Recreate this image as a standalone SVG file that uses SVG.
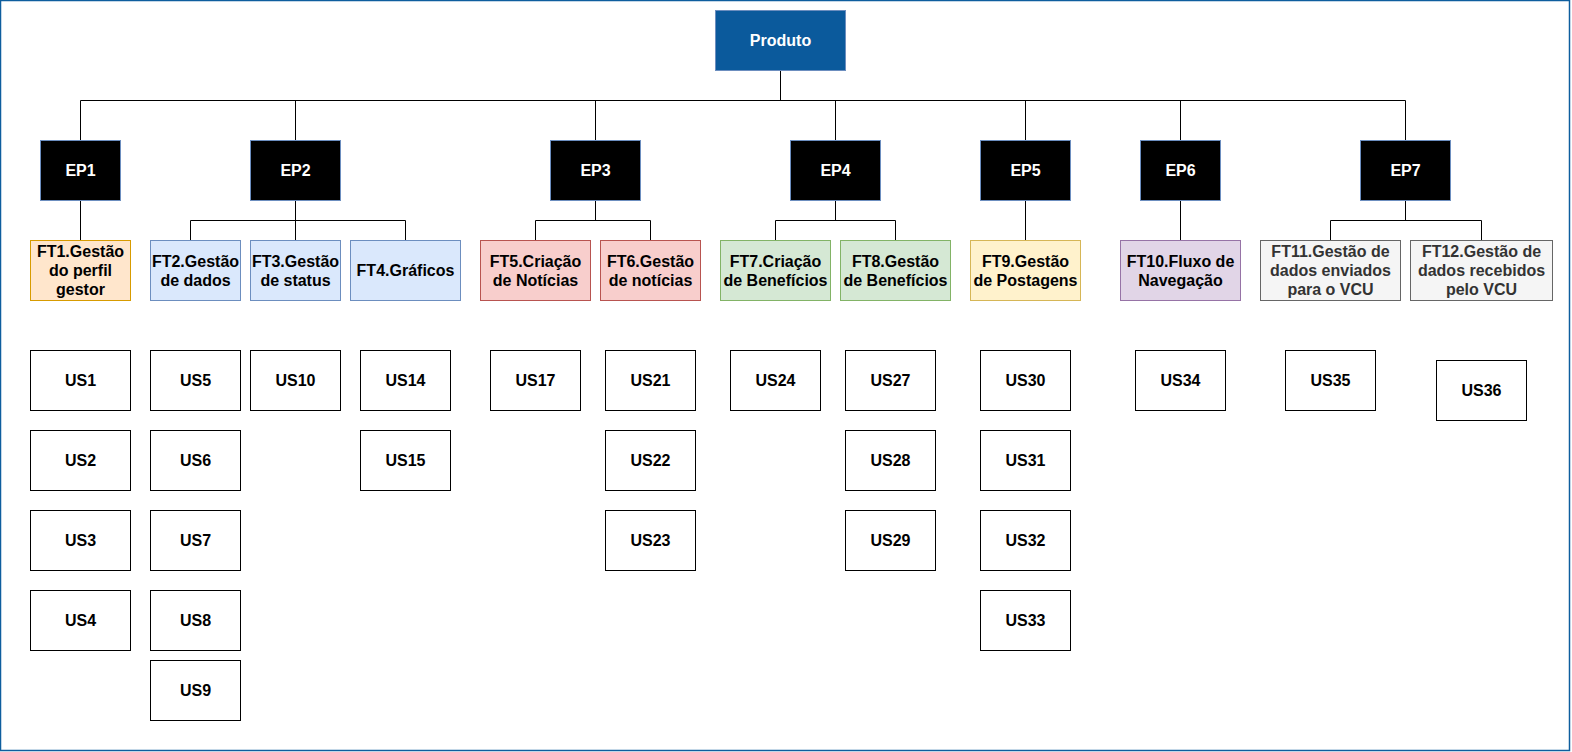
<svg xmlns="http://www.w3.org/2000/svg" width="1572" height="752" viewBox="0 0 1572 752">
<style>
text{font-family:"Liberation Sans",Arial,sans-serif;font-weight:bold;font-size:16px;text-anchor:middle}
.w{fill:#ffffff}
.k{fill:#000000}
.g{fill:#333333}
.us{fill:#ffffff;stroke:#000000;stroke-width:1}
.ep{fill:#000000;stroke:#6c8ebf;stroke-width:1}
.c{fill:none;stroke:#000000;stroke-width:1}
.or{fill:#ffe6cc;stroke:#d79b00}
.bl{fill:#dae8fc;stroke:#6c8ebf}
.rd{fill:#f8cecc;stroke:#b85450}
.gr{fill:#d5e8d4;stroke:#82b366}
.ye{fill:#fff2cc;stroke:#d6b656}
.pu{fill:#e1d5e7;stroke:#9673a6}
.gy{fill:#f5f5f5;stroke:#666666}
</style>
<rect x="0.5" y="0.5" width="1569" height="750" fill="#ffffff" stroke="#0e5e9e" stroke-width="1.5"/>
<g transform="translate(0.5,0.5)">
<g id="connectors">
<path class="c" d="M780 70V100" stroke-width="2"/>
<path class="c" d="M80 100H1405M80 100V140M295 100V140M595 100V140M835 100V140M1025 100V140M1180 100V140M1405 100V140"/>
<path class="c" d="M80 200V240"/>
<path class="c" d="M295 200V220M190 220H405M190 220V240M295 220V240M405 220V240"/>
<path class="c" d="M595 200V220M535 220H650M535 220V240M650 220V240"/>
<path class="c" d="M835 200V220M775 220H895M775 220V240M895 220V240"/>
<path class="c" d="M1025 200V240"/>
<path class="c" d="M1180 200V240"/>
<path class="c" d="M1405 200V220M1330 220H1481M1330 220V240M1481 220V240"/>
</g>
<g id="produto"><rect x="715" y="10" width="130" height="60" fill="#0b5a9c" stroke="#6c8ebf"/><text class="w" x="780" y="45.7">Produto</text></g>
<g id="ep1"><rect class="ep" x="40" y="140" width="80" height="60"/><text class="w" x="80" y="175.7">EP1</text></g>
<g id="ep2"><rect class="ep" x="250" y="140" width="90" height="60"/><text class="w" x="295" y="175.7">EP2</text></g>
<g id="ep3"><rect class="ep" x="550" y="140" width="90" height="60"/><text class="w" x="595" y="175.7">EP3</text></g>
<g id="ep4"><rect class="ep" x="790" y="140" width="90" height="60"/><text class="w" x="835" y="175.7">EP4</text></g>
<g id="ep5"><rect class="ep" x="980" y="140" width="90" height="60"/><text class="w" x="1025" y="175.7">EP5</text></g>
<g id="ep6"><rect class="ep" x="1140" y="140" width="80" height="60"/><text class="w" x="1180" y="175.7">EP6</text></g>
<g id="ep7"><rect class="ep" x="1360" y="140" width="90" height="60"/><text class="w" x="1405" y="175.7">EP7</text></g>

<g id="ft1"><rect class="or" x="30" y="240" width="100" height="60"/><text class="k" x="80" y="256.7">FT1.Gestão</text><text class="k" x="80" y="275.7">do perfil</text><text class="k" x="80" y="294.7">gestor</text></g>
<g id="ft2"><rect class="bl" x="150" y="240" width="90" height="60"/><text class="k" x="195" y="266.2">FT2.Gestão</text><text class="k" x="195" y="285.2">de dados</text></g>
<g id="ft3"><rect class="bl" x="250" y="240" width="90" height="60"/><text class="k" x="295" y="266.2">FT3.Gestão</text><text class="k" x="295" y="285.2">de status</text></g>
<g id="ft4"><rect class="bl" x="350" y="240" width="110" height="60"/><text class="k" x="405" y="275.7">FT4.Gráficos</text></g>
<g id="ft5"><rect class="rd" x="480" y="240" width="110" height="60"/><text class="k" x="535" y="266.2">FT5.Criação</text><text class="k" x="535" y="285.2">de Notícias</text></g>
<g id="ft6"><rect class="rd" x="600" y="240" width="100" height="60"/><text class="k" x="650" y="266.2">FT6.Gestão</text><text class="k" x="650" y="285.2">de notícias</text></g>
<g id="ft7"><rect class="gr" x="720" y="240" width="110" height="60"/><text class="k" x="775" y="266.2">FT7.Criação</text><text class="k" x="775" y="285.2">de Benefícios</text></g>
<g id="ft8"><rect class="gr" x="840" y="240" width="110" height="60"/><text class="k" x="895" y="266.2">FT8.Gestão</text><text class="k" x="895" y="285.2">de Benefícios</text></g>
<g id="ft9"><rect class="ye" x="970" y="240" width="110" height="60"/><text class="k" x="1025" y="266.2">FT9.Gestão</text><text class="k" x="1025" y="285.2">de Postagens</text></g>
<g id="ft10"><rect class="pu" x="1120" y="240" width="120" height="60"/><text class="k" x="1180" y="266.2">FT10.Fluxo de</text><text class="k" x="1180" y="285.2">Navegação</text></g>
<g id="ft11"><rect class="gy" x="1260" y="240" width="140" height="60"/><text class="g" x="1330" y="256.7">FT11.Gestão de</text><text class="g" x="1330" y="275.7">dados enviados</text><text class="g" x="1330" y="294.7">para o VCU</text></g>
<g id="ft12"><rect class="gy" x="1410" y="240" width="142" height="60"/><text class="g" x="1481" y="256.7">FT12.Gestão de</text><text class="g" x="1481" y="275.7">dados recebidos</text><text class="g" x="1481" y="294.7">pelo VCU</text></g>

<g id="us1"><rect class="us" x="30" y="350" width="100" height="60"/><text class="k" x="80" y="385.7">US1</text></g>
<g id="us2"><rect class="us" x="30" y="430" width="100" height="60"/><text class="k" x="80" y="465.7">US2</text></g>
<g id="us3"><rect class="us" x="30" y="510" width="100" height="60"/><text class="k" x="80" y="545.7">US3</text></g>
<g id="us4"><rect class="us" x="30" y="590" width="100" height="60"/><text class="k" x="80" y="625.7">US4</text></g>
<g id="us5"><rect class="us" x="150" y="350" width="90" height="60"/><text class="k" x="195" y="385.7">US5</text></g>
<g id="us6"><rect class="us" x="150" y="430" width="90" height="60"/><text class="k" x="195" y="465.7">US6</text></g>
<g id="us7"><rect class="us" x="150" y="510" width="90" height="60"/><text class="k" x="195" y="545.7">US7</text></g>
<g id="us8"><rect class="us" x="150" y="590" width="90" height="60"/><text class="k" x="195" y="625.7">US8</text></g>
<g id="us9"><rect class="us" x="150" y="660" width="90" height="60"/><text class="k" x="195" y="695.7">US9</text></g>
<g id="us10"><rect class="us" x="250" y="350" width="90" height="60"/><text class="k" x="295" y="385.7">US10</text></g>
<g id="us14"><rect class="us" x="360" y="350" width="90" height="60"/><text class="k" x="405" y="385.7">US14</text></g>
<g id="us15"><rect class="us" x="360" y="430" width="90" height="60"/><text class="k" x="405" y="465.7">US15</text></g>
<g id="us17"><rect class="us" x="490" y="350" width="90" height="60"/><text class="k" x="535" y="385.7">US17</text></g>
<g id="us21"><rect class="us" x="605" y="350" width="90" height="60"/><text class="k" x="650" y="385.7">US21</text></g>
<g id="us22"><rect class="us" x="605" y="430" width="90" height="60"/><text class="k" x="650" y="465.7">US22</text></g>
<g id="us23"><rect class="us" x="605" y="510" width="90" height="60"/><text class="k" x="650" y="545.7">US23</text></g>
<g id="us24"><rect class="us" x="730" y="350" width="90" height="60"/><text class="k" x="775" y="385.7">US24</text></g>
<g id="us27"><rect class="us" x="845" y="350" width="90" height="60"/><text class="k" x="890" y="385.7">US27</text></g>
<g id="us28"><rect class="us" x="845" y="430" width="90" height="60"/><text class="k" x="890" y="465.7">US28</text></g>
<g id="us29"><rect class="us" x="845" y="510" width="90" height="60"/><text class="k" x="890" y="545.7">US29</text></g>
<g id="us30"><rect class="us" x="980" y="350" width="90" height="60"/><text class="k" x="1025" y="385.7">US30</text></g>
<g id="us31"><rect class="us" x="980" y="430" width="90" height="60"/><text class="k" x="1025" y="465.7">US31</text></g>
<g id="us32"><rect class="us" x="980" y="510" width="90" height="60"/><text class="k" x="1025" y="545.7">US32</text></g>
<g id="us33"><rect class="us" x="980" y="590" width="90" height="60"/><text class="k" x="1025" y="625.7">US33</text></g>
<g id="us34"><rect class="us" x="1135" y="350" width="90" height="60"/><text class="k" x="1180" y="385.7">US34</text></g>
<g id="us35"><rect class="us" x="1285" y="350" width="90" height="60"/><text class="k" x="1330" y="385.7">US35</text></g>
<g id="us36"><rect class="us" x="1436" y="360" width="90" height="60"/><text class="k" x="1481" y="395.7">US36</text></g>
</g>
</svg>
